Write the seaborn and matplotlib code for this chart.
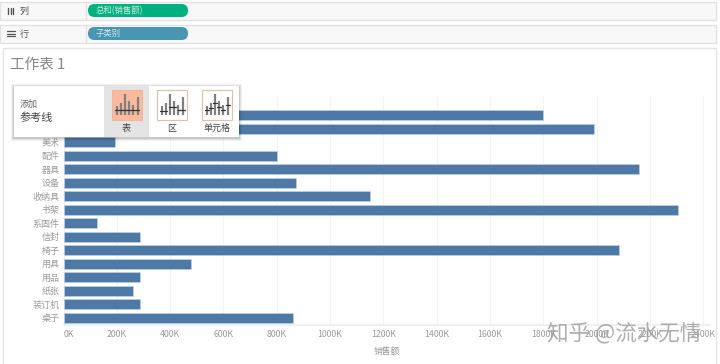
import matplotlib
matplotlib.use("Agg")
import matplotlib.pyplot as plt
from matplotlib.patches import Rectangle, FancyBboxPatch
import seaborn as sns
import pandas as pd

sns.set_theme(style="white")
plt.rcParams['font.family'] = ['Noto Sans CJK SC', 'DejaVu Sans']

categories = ["电话", "复印机", "美术", "配件", "器具", "设备", "收纳具", "书架",
              "系固件", "信封", "椅子", "用具", "用品", "纸张", "装订机", "桌子"]
sales_k = [1799, 1992, 194, 801, 2159, 872, 1150, 2306,
           126, 286, 2085, 478, 286, 260, 288, 861]
x_ticks = [0, 200, 400, 600, 800, 1000, 1200, 1400, 1600, 1800, 2000, 2200, 2400]
x_ticklabels = [f"{v}K" for v in x_ticks]

W, H = 720, 364
fig = plt.figure(figsize=(W / 100, H / 100), dpi=100, facecolor="white")

# page chrome in pixel coordinates
bg = fig.add_axes([0, 0, 1, 1], zorder=0)
bg.set_xlim(0, W); bg.set_ylim(H, 0); bg.axis("off")
for y0, y1 in [(1.5, 19.5), (24.5, 42.5)]:
    bg.add_patch(Rectangle((0, y0), 715.5, y1 - y0, fc="#f8f8f8", ec="#e2e2e2", lw=1))
    bg.plot([86, 86], [y0, y1], color="#e2e2e2", lw=1)
bg.add_patch(Rectangle((2.5, 47.5), 713, 330, fc="white", ec="#e4e4e4", lw=1))


def pill(ax, x0, y0, x1, y1, color, text):
    r = (y1 - y0) / 2
    ax.add_patch(FancyBboxPatch((x0, y0), x1 - x0, y1 - y0,
                                boxstyle=f"round,pad=0,rounding_size={r}",
                                fc=color, ec=color, lw=0))
    ax.text(x0 + 8, (y0 + y1) / 2, text, color="#cfeae2", fontsize=6, va="center", ha="left")


pill(bg, 88, 4, 188, 17, "#00b180", "总和(销售额)")
pill(bg, 88, 27, 188, 40, "#4996b2", "子类别")
bg.text(20, 11, "列", fontsize=6.5, color="#555555", va="center")
bg.text(20, 34, "行", fontsize=6.5, color="#555555", va="center")
for i in range(3):
    bg.plot([8 + i * 2.6] * 2, [7.5, 13.5], color="#555555", lw=1)
for i in range(3):
    bg.plot([7, 15], [31 + i * 2.5] * 2, color="#555555", lw=0.9)
bg.text(10, 64.5, "工作表 1", fontsize=10.5, color="#858585", va="center", ha="left")

# main chart
ax = fig.add_axes([63.5 / W, 1 - 325 / H, (710 - 63.5) / W, (325 - 95) / H], zorder=1)
ax.patch.set_alpha(0)
df = pd.DataFrame({"子类别": categories, "销售额": sales_k})
sns.barplot(data=df, x="销售额", y="子类别", color="#4e79a7", saturation=1,
            width=0.74, ax=ax, edgecolor="#c5d5e4", linewidth=0.4)
ax.set_xlim(0, (710 - 63.5) / 0.2665)
ax.set_ylim(15.53, -1.5)
ax.set_xticks(x_ticks)
ax.set_xticklabels(x_ticklabels, fontsize=6.3, color="#9a9a9a")
ax.get_xticklabels()[0].set_ha("left")
ax.tick_params(axis="y", labelsize=6.5, labelcolor="#9a9a9a", length=0, pad=3)
ax.tick_params(axis="x", length=0, pad=3.5)
ax.grid(axis="x", color="#f3f3f3", lw=0.8)
ax.set_axisbelow(True)
for s in ["top", "right", "left"]:
    ax.spines[s].set_visible(False)
ax.spines["bottom"].set_color("#eeeeee")
ax.set_ylabel("")
ax.set_xlabel("销售额", fontsize=6.3, color="#9a9a9a", labelpad=6)

# popup overlay
top = fig.add_axes([0, 0, 1, 1], zorder=2)
top.set_xlim(0, W); top.set_ylim(H, 0); top.axis("off"); top.patch.set_alpha(0)
for off, a in [(3, .05), (2, .07), (1, .1)]:
    top.add_patch(Rectangle((14 - off, 86 - off + 1), 225 + 2 * off, 51 + 2 * off,
                            fc="black", ec="none", alpha=a))
top.add_patch(Rectangle((14, 86), 225, 51, fc="white", ec="none"))
top.add_patch(Rectangle((104, 86), 45, 51, fc="#e4e4e4", ec="none"))
top.text(20, 104, "添加", fontsize=6.5, color="#666666", va="center")
top.text(20, 118, "参考线", fontsize=8, color="#444444", va="center")

icon_bars = [9, 12, 21, 14, 10, 18]
for x0, fc, mode, label in [(111.5, "#fcb99c", "table", "表"),
                            (156.5, "white", "pane", "区"),
                            (201.5, "white", "cell", "单元格")]:
    top.add_patch(Rectangle((x0, 89.5), 30, 30, fc=fc,
                            ec="#eeb89c" if mode == "table" else "#d8c4ae", lw=0.8))
    for i, h in enumerate(icon_bars):
        bx = x0 + 5 + i * 4.2
        top.plot([bx, bx], [115, 115 - h], color="#808080", lw=1.6, solid_capstyle="butt")
        if mode == "cell":
            ly = 115 - h * 0.55
            top.plot([bx - 2, bx + 2], [ly, ly], color="#333333", lw=0.9)
    if mode == "table":
        top.plot([x0 + 3, x0 + 27], [110, 110], color="#333333", lw=0.9)
    if mode == "pane":
        for a, b, ly in [(x0 + 3, x0 + 10, 111), (x0 + 12, x0 + 19, 107), (x0 + 21, x0 + 28, 110)]:
            top.plot([a, b], [ly, ly], color="#333333", lw=0.9)
    top.text(x0 + 15, 128, label, fontsize=6.5, color="#444444", ha="center", va="center")

# watermark
top.text(547, 333, "知乎 @流水无情", fontsize=15.5, color="#9a9a9a", alpha=0.8,
         va="center", ha="left")

fig.savefig("out.png", dpi=100, facecolor="white")
